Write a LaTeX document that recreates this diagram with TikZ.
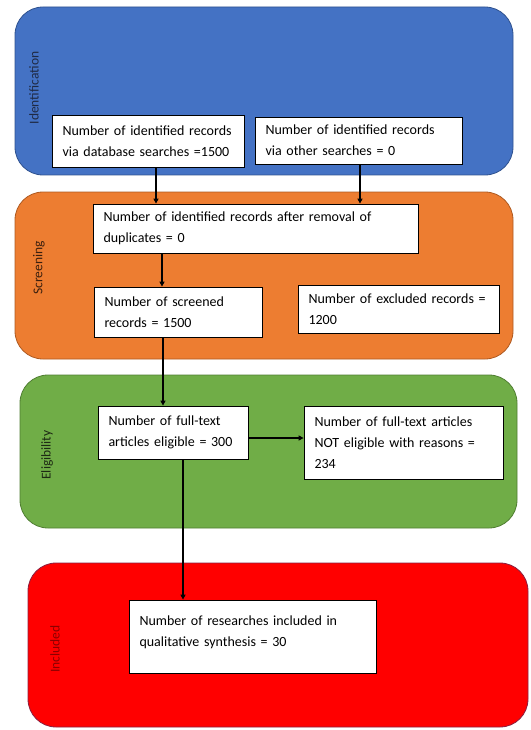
\documentclass[tikz,border=0pt]{standalone}
\usepackage{fontspec}
\setmainfont{Carlito}
\usetikzlibrary{arrows.meta}
\definecolor{pblue}{HTML}{4472C4}
\definecolor{pbluebd}{HTML}{2F528F}
\definecolor{porange}{HTML}{ED7D31}
\definecolor{porangebd}{HTML}{AE5A21}
\definecolor{pgreen}{HTML}{70AD47}
\definecolor{pgreenbd}{HTML}{507E32}
\definecolor{pred}{HTML}{FF0000}
\definecolor{predbd}{HTML}{8B2040}
\definecolor{lblue}{HTML}{1F2A44}
\definecolor{lorange}{HTML}{3B1F0E}
\definecolor{lgreen}{HTML}{1E2A14}
\definecolor{lred}{HTML}{8B0000}
\begin{document}
\begin{tikzpicture}[x=1pt,y=-1pt,
  panel/.style={rounded corners=28pt, line width=0.8pt},
  bx/.style={draw=black, fill=white, line width=0.8pt, align=left,
    inner xsep=10.5pt, inner ysep=0pt, font=\fontsize{14}{21}\selectfont},
  lbl/.style={rotate=90, font=\fontsize{13.5}{16}\selectfont, inner sep=0pt},
  arr/.style={-{Triangle[length=5pt,width=5pt]}, line width=1.3pt, draw=black}]
\useasboundingbox (0,0) rectangle (530,730);
% panels
\draw[panel, fill=pblue, draw=pbluebd] (15,7) rectangle (513,175);
\draw[panel, fill=porange, draw=porangebd] (15,192) rectangle (513,359);
\draw[panel, fill=pgreen, draw=pgreenbd] (20,375) rectangle (517,528);
\draw[panel, fill=pred, draw=predbd] (28,563) rectangle (528,727);
% labels
\node[lbl, text=lblue] (lid) at (34,88) {Identification};
\node[lbl, text=lorange] (lsc) at (39,268) {Screening};
\node[lbl, text=lgreen] (lel) at (47,455) {Eligibility};
\node[lbl, text=lred] (lin) at (55,649) {Included};
% boxes
\node[bx, minimum width=192pt, minimum height=52pt, text width=171pt] (b1) at (148,141)
  {Number of identified records\\via database searches =1500};
\node[bx, minimum width=207pt, minimum height=47pt, text width=186pt] (b2) at (358.5,140.5)
  {Number of identified records\\via other searches = 0};
\node[bx, minimum width=325pt, minimum height=49pt, text width=304pt] (b3) at (255.5,228.5)
  {Number of identified records after removal of\\duplicates = 0};
\node[bx, minimum width=168pt, minimum height=50pt, text width=147pt] (b4) at (178,312)
  {Number of screened\\records = 1500};
\node[bx, minimum width=201pt, minimum height=48pt, text width=180pt] (b5) at (398.5,309)
  {Number of excluded records =\\1200};
\node[bx, minimum width=150pt, minimum height=53pt, text width=129pt] (b6) at (173,432.5)
  {Number of full-text\\articles eligible = 300};
\node[bx, minimum width=199pt, minimum height=73pt, text width=178pt] (b7) at (403.5,442.5)
  {Number of full-text articles\\NOT eligible with reasons =\\234};
\node[bx, minimum width=247pt, minimum height=73pt, text width=226pt] (b8) at (252.5,636.5)
  {Number of researches included in\\qualitative synthesis = 30\\[-10pt]\mbox{}};
% connectors
\draw[arr] ([xshift=8pt]b1.south) -- ([xshift=8pt]b1.south |- b3.north);
\draw[arr] ([xshift=1.5pt]b2.south) -- ([xshift=1.5pt]b2.south |- b3.north);
\draw[arr] ([xshift=-16pt]b4.north |- b3.south) -- ([xshift=-16pt]b4.north);
\draw[arr] ([xshift=-15pt]b4.south) -- ([xshift=-15pt]b4.south |- b6.north);
\draw[arr] ([yshift=-5.5pt]b6.east) -- ([yshift=-5.5pt]b6.east -| b7.west);
\draw[arr] ([xshift=10pt]b6.south) -- ([xshift=10pt]b6.south |- b8.north);
\end{tikzpicture}
\end{document}
